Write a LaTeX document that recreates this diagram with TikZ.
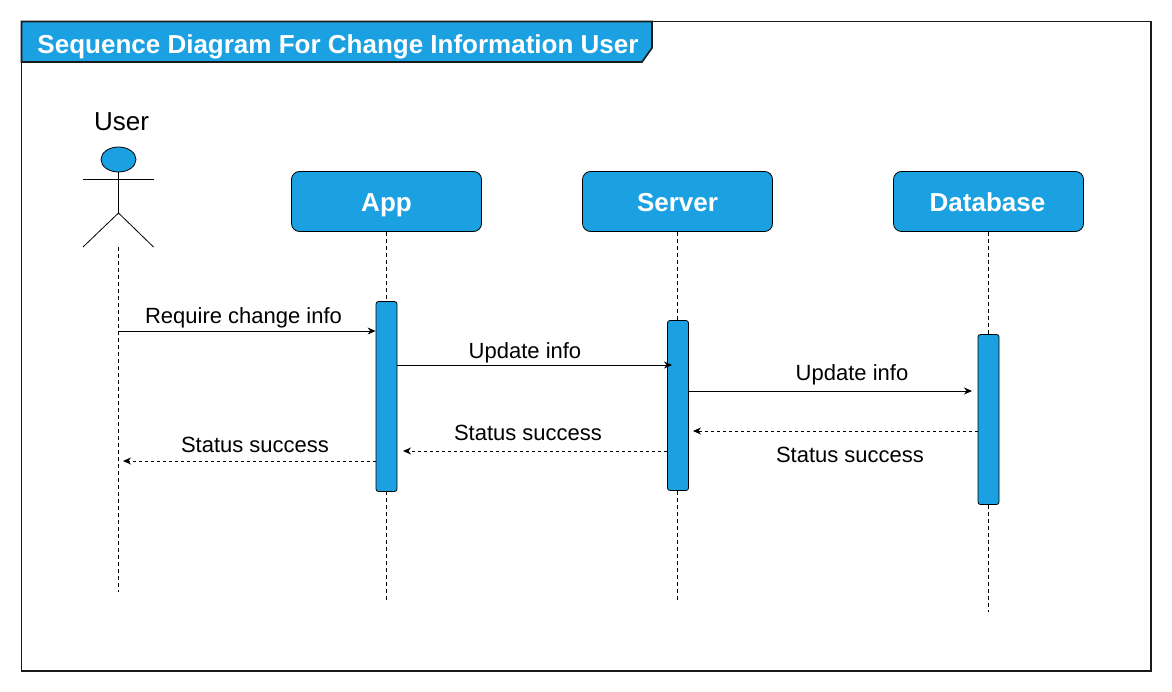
\documentclass[tikz,border=0pt]{standalone}
\usepackage{fontspec}
\setmainfont{Liberation Sans}
\usetikzlibrary{arrows.meta,shapes.geometric}
\definecolor{fillblue}{HTML}{1BA1E2}
\definecolor{framegray}{HTML}{1A1A1A}
\tikzset{
  framebox/.style={draw=framegray,line width=1.6pt,fill=white},
  titleshape/.style={draw=framegray,line width=1.6pt,fill=fillblue},
  titletext/.style={text=white,font=\fontsize{26}{32}\selectfont\bfseries,inner sep=0pt},
  headbox/.style={draw=black,line width=0.8pt,fill=fillblue,rounded corners=8pt,minimum width=190pt,minimum height=60pt,inner sep=0pt,text height=21pt,text depth=0pt,text=white,font=\fontsize{26}{32}\selectfont\bfseries},
  barbox/.style={draw=black,line width=0.8pt,fill=fillblue,rounded corners=2.5pt,minimum width=21pt,inner sep=0pt},
  lifeline/.style={draw=black,line width=0.8pt,dash pattern=on 4pt off 3pt},
  callmsg/.style={draw=black,line width=0.9pt,-{Stealth[length=8pt,width=7pt]}},
  retmsg/.style={draw=black,line width=0.8pt,dash pattern=on 3pt off 3pt,-{Stealth[length=8pt,width=7pt]}},
  msglabel/.style={inner sep=0pt,text=black,font=\fontsize{22}{27}\selectfont},
  limb/.style={draw=black,line width=0.8pt},
  headcircle/.style={ellipse,draw=black,line width=0.8pt,fill=fillblue,minimum width=35pt,minimum height=25pt,inner sep=0pt}
}
\begin{document}
\begin{tikzpicture}[x=1pt,y=-1pt]
\useasboundingbox (0,0) rectangle (1172,692);
\fill[white] (0,0) rectangle (1172,692);
\draw[framebox] (21.5,21.5) rectangle (1151,671);
\draw[titleshape] (21.5,21.5) -- (652,21.5) -- (652,48) -- (642,62) -- (21.5,62) -- cycle;
\node[titletext,anchor=base] (title) at (338,53.5) {Sequence Diagram For Change Information User};
% actor
\node[inner sep=0pt,font=\fontsize{26}{32}\selectfont,anchor=base] (usertext) at (121.5,131) {User};
\node[headcircle] (userhead) at (118.5,159.5) {};
\coordinate (hip) at (118.5,213);
\coordinate (armL) at (83,179.5);
\coordinate (armR) at (153.5,179.5);
\coordinate (footL) at (83,247);
\coordinate (footR) at (153.5,247);
\draw[limb] (userhead.south) -- (hip);
\draw[limb] (armL) -- (armR);
\draw[limb] (footL) -- (hip) -- (footR);
% heads
\node[headbox] (app) at (386.5,201.5) {App};
\node[headbox] (server) at (677.5,201.5) {Server};
\node[headbox] (database) at (988.5,201.5) {\hspace{-2pt}Database};
% lifeline ends
\coordinate (userTop) at (118.5,247);
\coordinate (userEnd) at (118.5,592);
\coordinate (appEnd) at (386.5,600);
\coordinate (serverEnd) at (677.5,600);
\coordinate (dbEnd) at (988.5,612);
\draw[lifeline] (userTop) -- (userEnd);
\draw[lifeline] (app.south) -- (appEnd);
\draw[lifeline] (server.south) -- (serverEnd);
\draw[lifeline] (database.south) -- (dbEnd);
% activation bars
\node[barbox,minimum height=190pt] (appbar) at (386.5,396.5) {};
\node[barbox,minimum height=170pt] (serverbar) at (678,405.5) {};
\node[barbox,minimum height=170pt] (dbbar) at (988.5,419.5) {};
% message ends
\coordinate (m1s) at (117.5,331);
\coordinate (m2e) at (672,365);
\coordinate (m3e) at (972,391);
\coordinate (r1e) at (693,431);
\coordinate (r2e) at (403,451);
\coordinate (r3e) at (123,461);
\draw[callmsg] (m1s) -- (appbar.west |- m1s);
\draw[callmsg] (appbar.east |- m2e) -- (m2e);
\draw[callmsg] (serverbar.east |- m3e) -- (m3e);
\draw[retmsg] (dbbar.west |- r1e) -- (r1e);
\draw[retmsg] (serverbar.west |- r2e) -- (r2e);
\draw[retmsg] (appbar.west |- r3e) -- (r3e);
% labels
\node[msglabel] (l1) at (243.5,318) {Require change info};
\node[msglabel] (l2) at (525,352.5) {Update info};
\node[msglabel] (l3) at (852,374.5) {Update info};
\node[msglabel] (l4) at (528,433) {Status success};
\node[msglabel] (l5) at (255,445) {Status success};
\node[msglabel] (l6) at (850,455) {Status success};
\end{tikzpicture}
\end{document}
